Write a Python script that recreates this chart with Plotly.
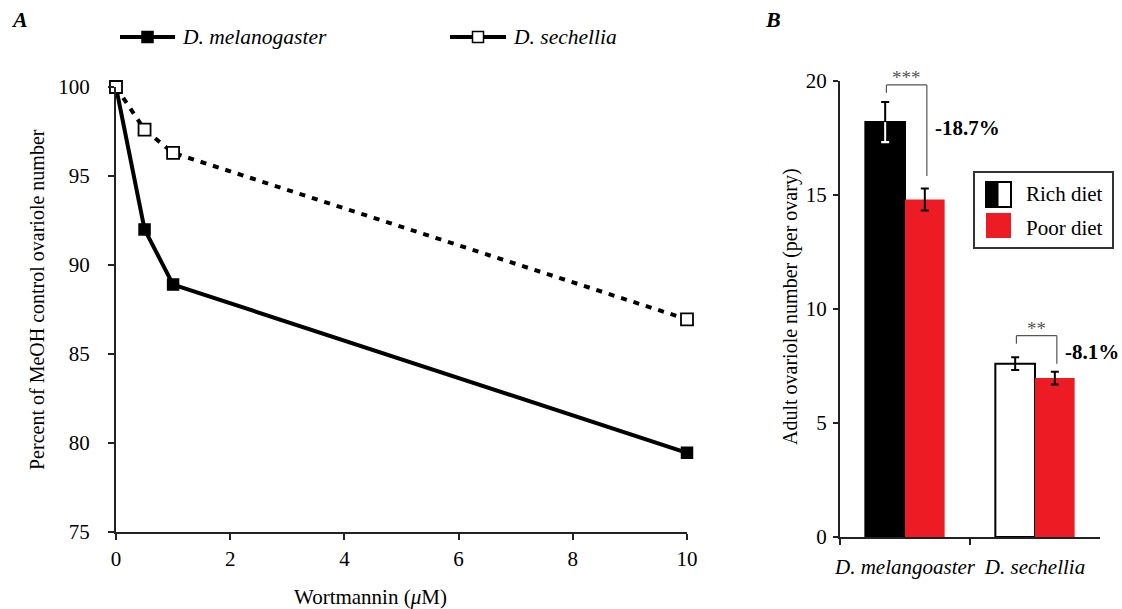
import plotly.graph_objects as go

# ---------------- data ----------------
dose_um = [0, 0.5, 1, 10]
mel_pct = [100, 92.0, 88.9, 79.45]
sech_pct = [100, 97.6, 96.3, 86.95]

species = ["D. melangoaster", "D. sechellia"]
rich_mean = [18.2, 7.6]
rich_err = [0.88, 0.28]
poor_mean = [14.8, 6.97]
poor_err = [0.48, 0.28]
pct_change = ["-18.7%", "-8.1%"]
signif = ["***", "**"]

FONT = "Liberation Serif"
W, H = 1122, 609
RED = "#ED1C24"


def px(x):
    return x / W


def py(y):
    return 1 - y / H


fig = go.Figure()

# ---------------- panel A ----------------
fig.add_trace(go.Scatter(
    x=dose_um, y=mel_pct, mode="lines+markers", name="D. melanogaster",
    line=dict(color="black", width=4),
    marker=dict(symbol="square", size=11, color="black", line=dict(color="black", width=1.5)),
    cliponaxis=False, xaxis="x", yaxis="y", showlegend=False))
fig.add_trace(go.Scatter(
    x=dose_um, y=sech_pct, mode="lines+markers", name="D. sechellia",
    line=dict(color="black", width=4, dash="6px,7px"),
    marker=dict(symbol="square", size=12, color="white", line=dict(color="black", width=1.8)),
    cliponaxis=False, xaxis="x", yaxis="y", showlegend=False))

# ---------------- panel B ----------------
fig.add_trace(go.Bar(
    x=species, y=rich_mean, name="Rich diet", offsetgroup="rich",
    marker=dict(color=["black", "white"], line=dict(color="black", width=2)),
    error_y=dict(type="data", array=rich_err, color="black", thickness=2, width=4),
    xaxis="x2", yaxis="y2", showlegend=False))
fig.add_trace(go.Bar(
    x=species, y=poor_mean, name="Poor diet", offsetgroup="poor",
    marker=dict(color=RED, line=dict(width=0)),
    error_y=dict(type="data", array=poor_err, color="black", thickness=2, width=4),
    xaxis="x2", yaxis="y2", showlegend=False))
# white lower whisker over the black bar
fig.add_trace(go.Bar(
    x=species[:1], y=rich_mean[:1], offsetgroup="rich",
    marker=dict(color="rgba(0,0,0,0)", line=dict(width=0)),
    error_y=dict(type="data", symmetric=False, array=[0], arrayminus=rich_err[:1],
                 color="white", thickness=2, width=0),
    xaxis="x2", yaxis="y2", showlegend=False, hoverinfo="skip"))
fig.add_trace(go.Bar(
    x=species[:1], y=[rich_mean[0] - rich_err[0]], offsetgroup="rich",
    marker=dict(color="rgba(0,0,0,0)", line=dict(width=0)),
    error_y=dict(type="data", symmetric=False, array=[0.001], arrayminus=[0.001],
                 color="white", thickness=2, width=4),
    xaxis="x2", yaxis="y2", showlegend=False, hoverinfo="skip"))

tickfont = dict(family=FONT, size=21, color="black")
axis_common = dict(showgrid=False, zeroline=False, showline=True, linecolor="#222",
                   linewidth=2, ticks="outside", ticklen=6, tickwidth=2, tickcolor="#222",
                   tickfont=tickfont, automargin=False, tickangle=0)

fig.update_layout(
    width=W, height=H, autosize=False,
    margin=dict(l=0, r=0, t=0, b=0),
    paper_bgcolor="white", plot_bgcolor="white",
    bargap=0.39, bargroupgap=0, barmode="group",
    xaxis=dict(domain=[px(116), px(687)], range=[0, 10], tickvals=[0, 2, 4, 6, 8, 10],
               anchor="y", ticklabelstandoff=1, **axis_common),
    yaxis=dict(domain=[py(532), py(87)], range=[75, 100], tickvals=[75, 80, 85, 90, 95, 100],
               anchor="x", ticklabelstandoff=14, **axis_common),
    xaxis2=dict(domain=[px(840), px(1100)], range=[-0.5, 1.5], type="category",
                categoryorder="array", categoryarray=species, tickson="boundaries",
                anchor="y2", ticklabelstandoff=10,
                **{**axis_common, "tickfont": dict(family=FONT, size=21, color="black", style="italic")}),
    yaxis2=dict(domain=[py(537), py(81)], range=[0, 20], tickvals=[0, 5, 10, 15, 20],
                anchor="x2", ticklabelstandoff=2, **{**axis_common, "ticklen": 5}),
)


def note(text, x, y, size=21, xanchor="center", angle=0, color="black"):
    return dict(text=text, x=px(x), y=py(y), xref="paper", yref="paper",
                xanchor=xanchor, yanchor="middle", showarrow=False, textangle=angle,
                font=dict(family=FONT, size=size, color=color))


ann = []
# panel letters
ann.append(note("<b><i>A</i></b>", 19, 20, size=22))
ann.append(note("<b><i>B</i></b>", 773, 20, size=22))
# axis titles
ann.append(note("Percent of MeOH control ovariole number", 37, 300, size=20, angle=-90))
ann.append(note("Wortmannin (<i>μ</i>M)", 370, 597, size=21))
ann.append(note("Adult ovariole number (per ovary)", 790, 307, size=20, angle=-90))

# legend A
shapes = []
leg_items = [("D. melanogaster", 120, 175, "black"), ("D. sechellia", 450, 506, "white")]
for name, x0, x1, fill in leg_items:
    shapes.append(dict(type="line", xref="paper", yref="paper", x0=px(x0), x1=px(x1),
                       y0=py(37), y1=py(37), line=dict(color="black", width=4)))
    cx = (x0 + x1) / 2
    shapes.append(dict(type="rect", xref="paper", yref="paper", x0=px(cx - 5.5), x1=px(cx + 5.5),
                       y0=py(31.5), y1=py(42.5), fillcolor=fill, line=dict(color="black", width=1.5)))
    ann.append(note(f"<i>{name}</i>", x1 + 5, 37, size=21.5, xanchor="left"))

# legend B
shapes.append(dict(type="rect", xref="paper", yref="paper", x0=px(974), x1=px(1113),
                   y0=py(172), y1=py(248), line=dict(color="#333", width=2), fillcolor="white"))
shapes.append(dict(type="rect", xref="paper", yref="paper", x0=px(986), x1=px(998.5),
                   y0=py(182), y1=py(207), line=dict(width=0), fillcolor="black"))
shapes.append(dict(type="rect", xref="paper", yref="paper", x0=px(986), x1=px(1011),
                   y0=py(182), y1=py(207), line=dict(color="black", width=2), fillcolor="rgba(0,0,0,0)"))
shapes.append(dict(type="rect", xref="paper", yref="paper", x0=px(986), x1=px(1011),
                   y0=py(213), y1=py(238), line=dict(width=0), fillcolor=RED))
ann.append(note("Rich diet", 1024, 194, size=21, xanchor="left"))
ann.append(note("Poor diet", 1024, 228, size=21, xanchor="left"))

# significance brackets (category index positions)
half = 0.153
for i in range(2):
    top = rich_mean[i] + rich_err[i] + (0.75 if i == 0 else 0.95)
    xl, xr = i - half + 0.01, i + half + 0.015
    yl = top - 0.35
    yr = poor_mean[i] + poor_err[i] + (0.55 if i == 0 else 0.35)
    for (a, b, c, d) in [(xl, yl, xl, top), (xl, top, xr, top), (xr, top, xr, yr)]:
        shapes.append(dict(type="line", xref="x2", yref="y2", x0=a, y0=b, x1=c, y1=d,
                           line=dict(color="#555", width=1.2)))
    ann.append(dict(text=signif[i], x=(xl + xr) / 2, y=top, xref="x2", yref="y2",
                    xanchor="center", yanchor="bottom", showarrow=False, yshift=-5,
                    font=dict(family=FONT, size=19, color="#555")))
    ann.append(dict(text=f"<b>{pct_change[i]}</b>", x=xr + 0.05, y=[17.95, 8.1][i],
                    xref="x2", yref="y2", xanchor="left", yanchor="middle", showarrow=False,
                    font=dict(family=FONT, size=21, color="black")))

fig.update_layout(annotations=ann, shapes=shapes)
fig.write_html("out.html")
